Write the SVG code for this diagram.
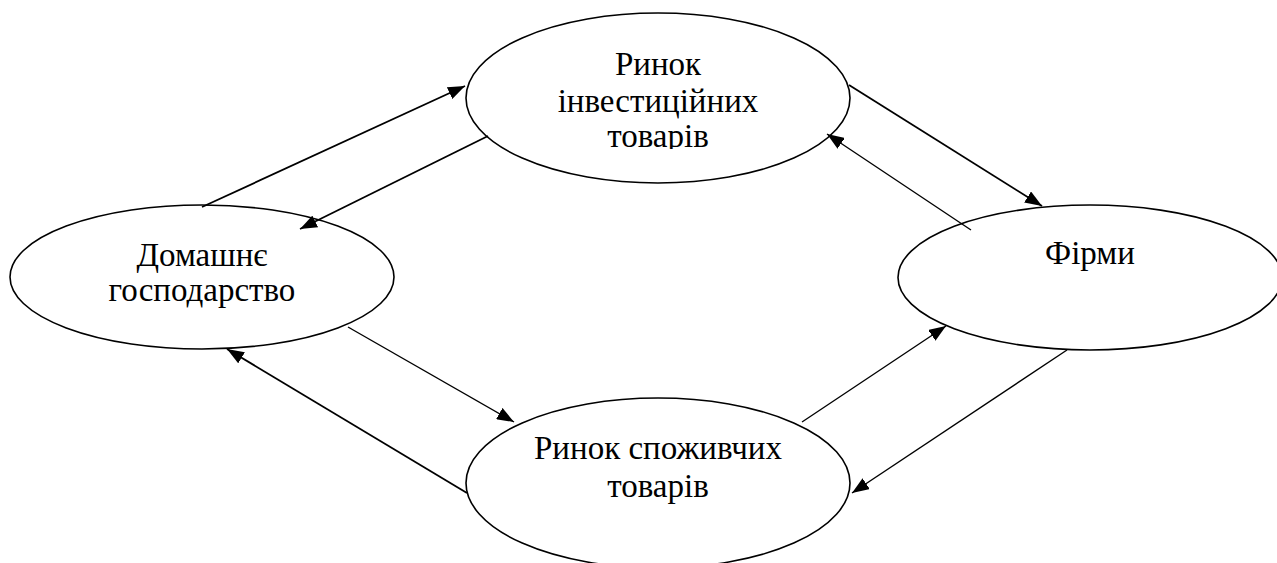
<svg xmlns="http://www.w3.org/2000/svg" width="1277" height="563" viewBox="0 0 1277 563">
<style>
.node ellipse{fill:#fff;stroke:#000;stroke-width:1.6}
.node text{font-family:"Liberation Serif","Times New Roman",serif;font-size:33px;fill:#000;text-anchor:middle}
.conn line{stroke:#000;stroke-width:1.4}
.conn line.thick{stroke-width:1.8}
</style>
<defs>
<marker id="ah" markerUnits="userSpaceOnUse" markerWidth="17" markerHeight="13" refX="17" refY="6.5" orient="auto">
<path d="M0,0 L17,6.5 L0,13 z" fill="#000"/>
</marker>
<clipPath id="topclip"><rect x="460" y="0" width="400" height="149"/></clipPath>
</defs>
<rect width="1277" height="563" fill="#fff"/>
<g id="node-invest" class="node">
<ellipse cx="658" cy="98" rx="192" ry="85"/>
<g clip-path="url(#topclip)">
<text x="658" y="75">Ринок</text>
<text x="658" y="112">інвестиційних</text>
<text x="658" y="147">товарів</text>
</g>
</g>
<g id="node-household" class="node">
<ellipse cx="202" cy="277" rx="192" ry="72"/>
<text x="202" y="266">Домашнє</text>
<text x="202" y="301">господарство</text>
</g>
<g id="node-firms" class="node">
<ellipse cx="1090" cy="277.5" rx="192" ry="72.5"/>
<text x="1090" y="264">Фірми</text>
</g>
<g id="node-consumer" class="node">
<ellipse cx="658" cy="483" rx="192" ry="85"/>
<text x="658" y="459">Ринок споживчих</text>
<text x="658" y="497">товарів</text>
</g>
<g id="connectors" class="conn">
<line class="thick" x1="202" y1="207" x2="465" y2="86" marker-end="url(#ah)"/>
<line class="thick" x1="488" y1="136" x2="300" y2="229" marker-end="url(#ah)"/>
<line class="thick" x1="849" y1="85" x2="1042" y2="206" marker-end="url(#ah)"/>
<line x1="971" y1="230" x2="827" y2="134" marker-end="url(#ah)"/>
<line x1="348" y1="327" x2="514" y2="422" marker-end="url(#ah)"/>
<line class="thick" x1="467" y1="493" x2="227" y2="349" marker-end="url(#ah)"/>
<line x1="802" y1="422" x2="946" y2="326" marker-end="url(#ah)"/>
<line x1="1067" y1="350" x2="852" y2="493" marker-end="url(#ah)"/>
</g>
</svg>
